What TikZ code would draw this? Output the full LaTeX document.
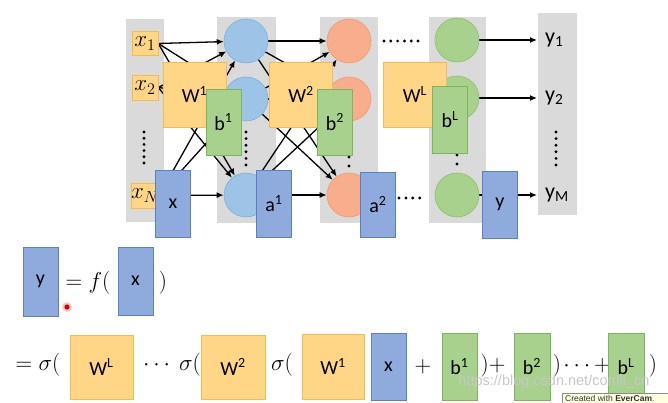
\RequirePackage{fix-cm}
\documentclass[tikz,border=0pt]{standalone}
\usepackage{fontspec}
\setsansfont{Carlito}
\newfontfamily\wmfont{Liberation Sans}
\usetikzlibrary{arrows.meta}
\definecolor{colgray}{HTML}{DADADA}
\definecolor{wfill}{HTML}{FFD685}
\definecolor{wdraw}{HTML}{F2BC52}
\definecolor{bfill}{HTML}{A9D18E}
\definecolor{bdraw}{HTML}{7FB55A}
\definecolor{afill}{HTML}{8FAADC}
\definecolor{adraw}{HTML}{5B7FC8}
\definecolor{nblue}{HTML}{9DC3E6}
\definecolor{nbluedraw}{HTML}{7DAEE0}
\definecolor{norange}{HTML}{F8AD8D}
\definecolor{norangedraw}{HTML}{F09A70}
\definecolor{ngreen}{HTML}{A9D18E}
\definecolor{ngreendraw}{HTML}{8CC06C}
\definecolor{tipfill}{HTML}{FFFFE1}
\pgfdeclarelayer{back}
\pgfdeclarelayer{edges}
\pgfsetlayers{back,edges,main}
\begin{document}
\begin{tikzpicture}[x=1pt,y=-1pt,
  lab/.style={font=\sffamily\fontsize{20}{22}\selectfont, inner sep=0pt},
  wbox/.style={lab, draw=wdraw, fill=wfill, line width=0.7pt, minimum width=63pt, minimum height=65pt},
  bbox/.style={lab, draw=bdraw, fill=bfill, line width=0.7pt, minimum width=35pt, minimum height=66pt},
  abox/.style={lab, draw=adraw, fill=afill, line width=0.7pt, minimum width=35pt, minimum height=67pt},
  inbox/.style={draw=wdraw, fill=wfill, line width=0.6pt, minimum width=26pt, minimum height=24pt, inner sep=0pt, font=\fontsize{23}{25}\selectfont},
  neuron/.style={circle, minimum size=44pt, inner sep=0pt, line width=0.6pt},
  n1/.style={neuron, fill=nblue, draw=nbluedraw},
  n2/.style={neuron, fill=norange, draw=norangedraw},
  nL/.style={neuron, fill=ngreen, draw=ngreendraw},
  outlab/.style={font=\sffamily\fontsize{22}{24}\selectfont, inner ysep=0pt, inner xsep=8pt, anchor=west},
  eqtext/.style={font=\fontsize{23}{27}\selectfont, inner sep=0pt},
  conn/.style={-{Latex[length=7pt,width=6pt]}, line width=1.3pt},
  colbg/.style={fill=colgray, draw=none},
  dotf/.style={fill=black}
]
\useasboundingbox (0,0) rectangle (668,403);

% gray columns
\begin{pgfonlayer}{back}
\fill[colbg] (126,19) rectangle (164,222);
\fill[colbg] (217,17) rectangle (276,223);
\fill[colbg] (320,17) rectangle (378,223);
\fill[colbg] (429,17) rectangle (486,223);
\fill[colbg] (538,13) rectangle (577,215);
\end{pgfonlayer}

% neurons
\node[n1] (c11) at (246,41) {};
\node[n1] (c12) at (246,99) {};
\node[n1] (c13) at (246,195) {};
\node[n2] (c21) at (349,41) {};
\node[n2] (c22) at (349,99) {};
\node[n2] (c23) at (349,195) {};
\node[nL] (cL1) at (457,40) {};
\node[nL] (cL2) at (457,98) {};
\node[nL] (cL3) at (457,195) {};

% inputs
\node[inbox] (x1) at (145,43.5) {$x_1$};
\node[inbox, minimum height=25pt] (x2) at (145,87.5) {$x_2$};
\node[inbox, minimum height=25pt] (xN) at (145,195.5) {$x_N$};

% outputs
\node[outlab] (o1) at (537,40) {y\textsubscript{1}};
\node[outlab] (o2) at (537,98) {y\textsubscript{2}};
\node[outlab] (oM) at (537,195) {y\textsubscript{M}};

% connectors
\begin{pgfonlayer}{edges}
\foreach \a in {x1,x2,xN} \foreach \b in {c11,c12,c13} \draw[conn] (\a.east) -- (\b);
\foreach \a in {c11,c12,c13} \foreach \b in {c21,c22,c23} \draw[conn] (\a) -- (\b);
\draw[conn] (cL1.east) -- (o1.west);
\draw[conn] (cL2.east) -- (o2.west);
\draw[conn] (cL3.east) -- (oM.west);
\end{pgfonlayer}

% dots
\foreach \i in {0,...,5} \fill[dotf] (144,132+\i*6.2) circle (1.6);
\foreach \i in {0,...,5} \fill[dotf] (246,132+\i*6.6) circle (1.6);
\foreach \i in {0,...,5} \fill[dotf] (556,132+\i*6.6) circle (1.6);
\foreach \yy in {157,166} \fill[dotf] (349,\yy) circle (1.6);
\foreach \yy in {155,164} \fill[dotf] (457,\yy) circle (1.6);
\foreach \i in {0,...,5} \fill[dotf] (384+\i*6.8,41) circle (1.6);
\foreach \i in {0,...,3} \fill[dotf] (399+\i*6.9,198) circle (1.6);

% weight / bias / activation boxes
\node[wbox] (W1) at (194.5,94.5) {W\textsuperscript{1}};
\node[wbox] (W2) at (301,94.5) {W\textsuperscript{2}};
\node[wbox] (WL) at (415,94.5) {W\textsuperscript{L}};
\node[bbox] (b1) at (223.5,122) {b\textsuperscript{1}};
\node[bbox] (b2) at (335,122) {b\textsuperscript{2}};
\node[bbox, minimum height=67pt] (bL) at (450,119.5) {b\textsuperscript{L}};
\node[abox] (xv) at (173,203.5) {x};
\node[abox] (a1) at (274,203.5) {a\textsuperscript{1}};
\node[abox, minimum height=65pt] (a2) at (378,204.5) {a\textsuperscript{2}};
\node[abox] (yv) at (500,204.5) {y};

% equation 1
\node[abox, minimum height=69pt] (ey) at (40.5,281.5) {y};
\node[eqtext] (eq1) at (88,283) {$= f($};
\node[abox, minimum height=68pt] (ex) at (135.5,281) {x};
\node[eqtext] (eq1r) at (163,283) {$)$};

% cursor mark
\fill[red!30, opacity=0.7] (67,307) circle (5);
\fill[red!85!black] (67,307) circle (2.6);

% equation 2
\node[eqtext] (s1) at (38,365) {$=\sigma($};
\node[wbox, minimum height=64pt] (eWL) at (101.5,367) {W\textsuperscript{L}};
\node[eqtext] (s2) at (172,365) {$\cdots\:\sigma($};
\node[wbox, minimum height=64pt, minimum width=64pt] (eW2) at (233,367) {W\textsuperscript{2}};
\node[eqtext] (s3) at (282,365) {$\sigma($};
\node[wbox, minimum width=62pt] (eW1) at (333,366.5) {W\textsuperscript{1}};
\node[abox] (ex2) at (388.5,366.5) {x};
\node[eqtext] (p1) at (423,367) {$+$};
\node[bbox, minimum height=67pt] (eb1) at (459.5,366.5) {b\textsuperscript{1}};
\node[eqtext] (p2) at (493,366) {$)+$};
\node[bbox, minimum height=67pt, minimum width=36pt] (eb2) at (532,366.5) {b\textsuperscript{2}};
\node[eqtext] (p3) at (557,366) {$)$};
\node[eqtext] (p4) at (587,366) {$\cdots+$};
\node[bbox, minimum height=67pt, minimum width=36pt] (ebL) at (626,366.5) {b\textsuperscript{L}};
\node[eqtext] (p5) at (653,366) {$)$};

% watermark and tooltip
\node[font=\wmfont\fontsize{14.5}{16}\selectfont, text=black!22, inner sep=0pt] (wm) at (554,382) {https://blog.csdn.net/comli\_cn};
\fill[tipfill, draw=black!45, line width=0.5pt] (562,393) rectangle (672,408);
\node[font=\wmfont\fontsize{8.5}{9}\selectfont, text=black!80, anchor=west, inner sep=0pt] (tip) at (565,398.5) {Created with \textbf{EverCam}.};
\end{tikzpicture}
\end{document}
